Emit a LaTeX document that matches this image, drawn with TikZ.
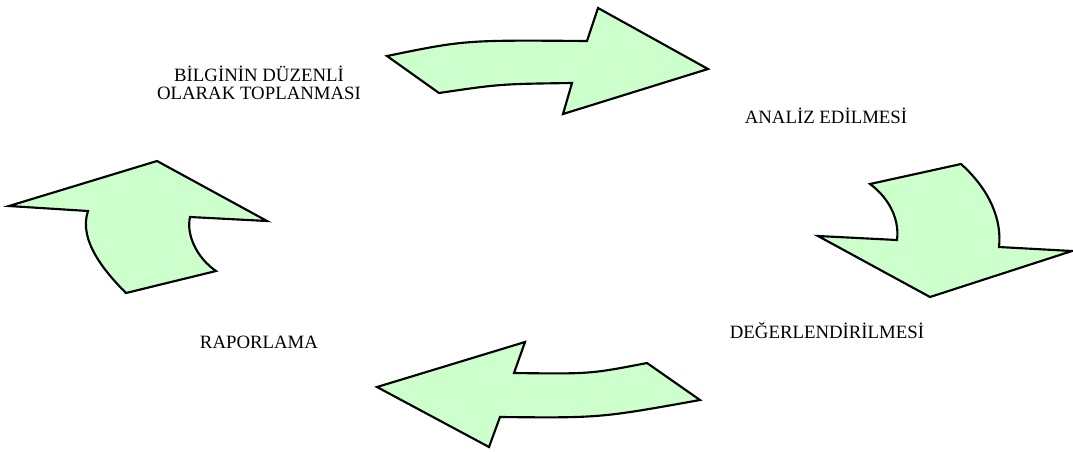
\documentclass[tikz,border=0pt]{standalone}
\usepackage{fontspec}
\setmainfont{Liberation Serif}
\usepackage{tikz}

\begin{document}
\begin{tikzpicture}[x=0.75pt, y=-0.75pt,
    bigarrow/.style={draw=black, fill=green!20, line width=1.6pt, line join=miter},
    steplabel/.style={anchor=base, align=center, font=\fontsize{14.1}{13}\selectfont}]
    \useasboundingbox (0,0) rectangle (1073,451);

    % top arrow, pointing right
    \coordinate (TA) at (387, 56);
    \coordinate (TB) at (587, 41);
    \coordinate (TC) at (598, 8);
    \coordinate (TT) at (708, 69);
    \coordinate (TD) at (563, 114);
    \coordinate (TE) at (572, 83);
    \coordinate (TF) at (439, 93);

    % right arrow, pointing down
    \coordinate (RA) at (870, 184);
    \coordinate (RB) at (961, 164);
    \coordinate (RC) at (999, 247);
    \coordinate (RD) at (1072, 251);
    \coordinate (RT) at (930, 297);
    \coordinate (RE) at (818, 236);
    \coordinate (RF) at (897, 240);

    % bottom arrow, pointing left
    \coordinate (BT) at (377, 387);
    \coordinate (BA) at (525, 342);
    \coordinate (BB) at (514, 373);
    \coordinate (BC) at (647, 363);
    \coordinate (BD) at (700, 400);
    \coordinate (BE) at (500, 417);
    \coordinate (BF) at (489, 447);

    % left arrow, pointing up
    \coordinate (LT) at (157, 161);
    \coordinate (LA) at (267, 221);
    \coordinate (LB) at (190, 217);
    \coordinate (LC) at (216, 271);
    \coordinate (LD) at (126, 293);
    \coordinate (LE) at (88, 211);
    \coordinate (LF) at (9, 206);

    \draw[bigarrow] (TA) .. controls (465, 40) .. (TB) -- (TC) -- (TT) -- (TD) -- (TE)
        .. controls (500, 84) .. (TF) -- cycle;
    \draw[bigarrow] (RA) -- (RB) .. controls (990, 190) and (1002, 220) .. (RC) -- (RD)
        -- (RT) -- (RE) -- (RF) .. controls (900, 215) and (885, 195) .. (RA) -- cycle;
    \draw[bigarrow] (BT) -- (BA) -- (BB) .. controls (590, 374) .. (BC) -- (BD)
        .. controls (600, 418) .. (BE) -- (BF) -- cycle;
    \draw[bigarrow] (LE) -- (LF) -- (LT) -- (LA) -- (LB)
        .. controls (186, 235) and (197, 258) .. (LC) -- (LD)
        .. controls (105, 272) and (78, 240) .. (LE) -- cycle;

    \node[steplabel] (collect) at (259, 99) {BİLGİNİN DÜZENLİ\\OLARAK TOPLANMASI};
    \node[steplabel] (analyse) at (826, 123) {ANALİZ EDİLMESİ};
    \node[steplabel] (evaluate) at (827, 338) {DEĞERLENDİRİLMESİ};
    \node[steplabel] (report) at (259, 348) {RAPORLAMA};
\end{tikzpicture}
\end{document}
